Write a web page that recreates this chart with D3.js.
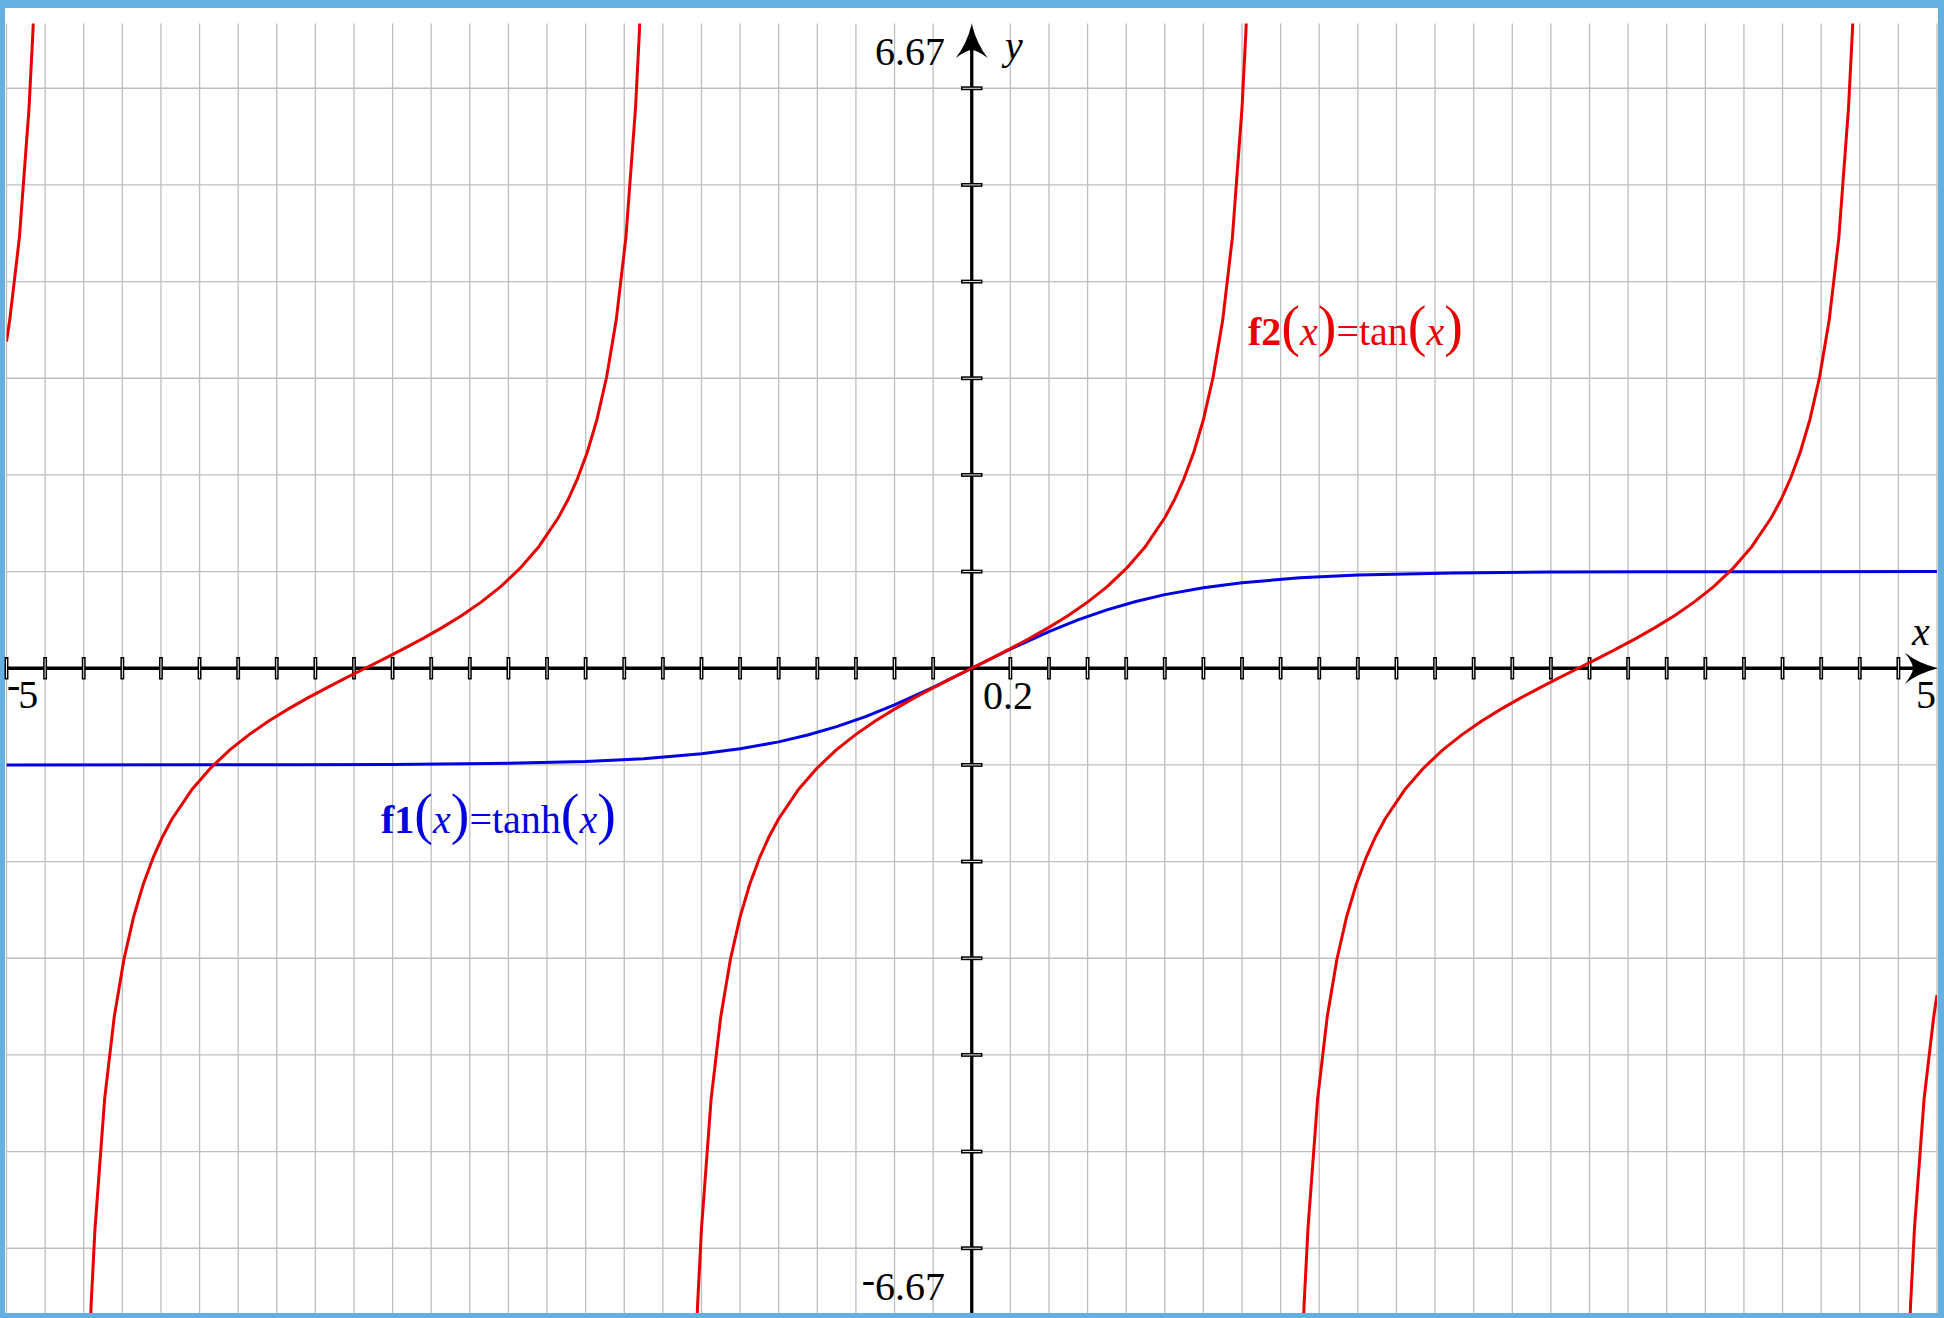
<!DOCTYPE html>
<html><head><meta charset="utf-8">
<script src="https://cdn.jsdelivr.net/npm/d3@7"></script>
<style>body{margin:0;background:#fff}svg{display:block}</style>
</head><body>
<svg id="c" width="1944" height="1318"></svg>
<script>
// ---- data ----
const xDomain = [-5, 5];
const yDomain = [-6.67, 6.67];
const yTickValues = [-6, -5, -4, -3, -2, -1, 1, 2, 3, 4, 5, 6];
const xTickLabel = "0.2";
const yTopLabel = "6.67";
const yBottomLabel = "6.67";

// f1(x) = tanh(x)
const tanhX = [-5,-4,-3.5,-3,-2.5,-2,-1.7,-1.4,-1.2,-1,-0.85,-0.7,-0.55,-0.4,-0.2,0,0.2,0.4,0.55,0.7,0.85,1,1.2,1.4,1.7,2,2.5,3,3.5,4,5];
const tanhY = [-0.9999,-0.9993,-0.9982,-0.9951,-0.9866,-0.9640,-0.9354,-0.8854,-0.8337,-0.7616,-0.6911,-0.6044,-0.5005,-0.3799,-0.1974,0,0.1974,0.3799,0.5005,0.6044,0.6911,0.7616,0.8337,0.8854,0.9354,0.9640,0.9866,0.9951,0.9982,0.9993,0.9999];

// f2(x) = tan(x), one array pair per branch
const tanX1 = [-5,-4.9832,-4.9332,-4.8832,-4.8632,-4.8432,-4.8132];
const tanY1 = [3.3805,3.6021,4.4552,5.7979,6.581,7.602,9.887];
const tanX2 = [-4.6116,-4.5816,-4.5616,-4.5416,-4.4916,-4.4416,-4.3916,-4.3416,-4.2916,-4.2416,-4.1916,-4.1416,-4.0416,-3.9416,-3.8416,-3.7416,-3.6416,-3.5416,-3.4416,-3.3416,-3.2416,-3.1416,-3.0416,-2.9416,-2.8416,-2.7416,-2.6416,-2.5416,-2.4416,-2.3416,-2.2416,-2.1416,-2.0916,-2.0416,-1.9916,-1.9416,-1.8916,-1.8416,-1.7916,-1.7416,-1.7216,-1.7016,-1.6716];
const tanX3 = [-1.47,-1.44,-1.42,-1.4,-1.35,-1.3,-1.25,-1.2,-1.15,-1.1,-1.05,-1,-0.9,-0.8,-0.7,-0.6,-0.5,-0.4,-0.3,-0.2,-0.1,0,0.1,0.2,0.3,0.4,0.5,0.6,0.7,0.8,0.9,1,1.05,1.1,1.15,1.2,1.25,1.3,1.35,1.4,1.42,1.44,1.47];
const tanX4 = [1.6716,1.7016,1.7216,1.7416,1.7916,1.8416,1.8916,1.9416,1.9916,2.0416,2.0916,2.1416,2.2416,2.3416,2.4416,2.5416,2.6416,2.7416,2.8416,2.9416,3.0416,3.1416,3.2416,3.3416,3.4416,3.5416,3.6416,3.7416,3.8416,3.9416,4.0416,4.1416,4.1916,4.2416,4.2916,4.3416,4.3916,4.4416,4.4916,4.5416,4.5616,4.5816,4.6116];
const tanYMain = [-9.887,-7.602,-6.581,-5.798,-4.455,-3.602,-3.010,-2.572,-2.235,-1.965,-1.743,-1.557,-1.260,-1.030,-0.842,-0.684,-0.546,-0.423,-0.309,-0.203,-0.100,0,0.100,0.203,0.309,0.423,0.546,0.684,0.842,1.030,1.260,1.557,1.743,1.965,2.235,2.572,3.010,3.602,4.455,5.798,6.581,7.602,9.887];
const tanX5 = [4.8132,4.8432,4.8632,4.8832,4.9332,4.9832,5];
const tanY5 = [-9.887,-7.602,-6.581,-5.798,-4.455,-3.602,-3.3805];

// ---- drawing ----
const RED = "#e80000", BLUE = "#0000e0";
const FONT = "'Liberation Serif','Times New Roman',serif";
const svg = d3.select("#c");
svg.append("rect").attr("width",1944).attr("height",1318).attr("fill","#64b0e3");
svg.append("rect").attr("x",5).attr("y",8).attr("width",1933).attr("height",1305).attr("fill","#fff");

const x = d3.scaleLinear().domain(xDomain).range([6.5, 1937]);
const y = d3.scaleLinear().domain(yDomain).range([1313, 23.5]);
const x0 = x(0), y0 = y(0);

// grid
const gGrid = svg.append("g").attr("stroke","#bebebe").attr("stroke-width",1.3);
const xGrid = x.ticks(50);
gGrid.selectAll("line.v").data(xGrid).join("line").attr("class","v")
  .attr("x1",d=>x(d)).attr("x2",d=>x(d)).attr("y1",y(yDomain[1])).attr("y2",y(yDomain[0]));
gGrid.selectAll("line.h").data(yTickValues).join("line").attr("class","h")
  .attr("y1",d=>y(d)).attr("y2",d=>y(d)).attr("x1",x(xDomain[0])).attr("x2",x(xDomain[1]));

// axes
svg.append("line").attr("x1",x(-5)).attr("x2",1925).attr("y1",y0).attr("y2",y0)
  .attr("stroke","#000").attr("stroke-width",3.3);
svg.append("line").attr("x1",x0).attr("x2",x0).attr("y1",y(yDomain[0])).attr("y2",45)
  .attr("stroke","#000").attr("stroke-width",3.3);

// ticks (double lines)
const xt = xGrid.filter(d => Math.abs(d) > 1e-9 && d < 4.99);
svg.append("g").selectAll("rect").data(xt).join("rect")
  .attr("x",d=>x(d)-1.2).attr("y",y0-10.5).attr("width",2.4).attr("height",21)
  .attr("fill","#fff").attr("stroke","#000").attr("stroke-width",1.5);
svg.append("g").selectAll("rect").data(yTickValues).join("rect")
  .attr("y",d=>y(d)-1.2).attr("x",x0-10).attr("height",2.4).attr("width",20)
  .attr("fill","#fff").attr("stroke","#000").attr("stroke-width",1.5);

// arrowheads
const tipY = 24;
svg.append("path").attr("fill","#000")
  .attr("d",`M${x0},${tipY} Q${x0+5},${tipY+20} ${x0+16},${tipY+34} Q${x0+5},${tipY+26} ${x0},${tipY+26} Q${x0-5},${tipY+26} ${x0-16},${tipY+34} Q${x0-5},${tipY+20} ${x0},${tipY} Z`);
const tipX = 1938;
svg.append("path").attr("fill","#000")
  .attr("d",`M${tipX},${y0} Q${tipX-20},${y0-5} ${tipX-33},${y0-15.5} Q${tipX-25},${y0-5} ${tipX-25},${y0} Q${tipX-25},${y0+5} ${tipX-33},${y0+15.5} Q${tipX-20},${y0+5} ${tipX},${y0} Z`);

// curves
svg.append("clipPath").attr("id","clip").append("rect")
  .attr("x",x(-5)).attr("y",y(yDomain[1])).attr("width",x(5)-x(-5)).attr("height",y(yDomain[0])-y(yDomain[1]));
const line = d3.line().x(d=>x(d[0])).y(d=>y(d[1]));
const gC = svg.append("g").attr("clip-path","url(#clip)").attr("fill","none")
  .attr("stroke-width",3).attr("stroke-linejoin","round");
gC.append("path").attr("stroke",BLUE).attr("d",line(d3.zip(tanhX,tanhY)));
const branches = [[tanX1,tanY1],[tanX2,tanYMain],[tanX3,tanYMain],[tanX4,tanYMain],[tanX5,tanY5]];
branches.forEach(([bx,by]) => gC.append("path").attr("stroke",RED).attr("d",line(d3.zip(bx,by))));

// labels
const T = (px,py) => svg.append("text").attr("x",px).attr("y",py)
  .attr("font-family",FONT).attr("font-size",40).attr("fill","#000");
T(945,65).attr("text-anchor","end").text(yTopLabel);
T(1005,59).attr("font-style","italic").text("y");
T(983,709).text(xTickLabel);
T(1912,645).attr("font-style","italic").text("x");
T(1936,708).attr("text-anchor","end").text("5");
{ const t = T(7,708); t.append("tspan").attr("dy",-10).text("-"); t.append("tspan").attr("dy",10).attr("dx",-2).text("5"); }
{ const t = T(945,1300).attr("text-anchor","end"); t.append("tspan").attr("dy",-7).text("-"); t.append("tspan").attr("dy",7).text(yBottomLabel); }

function fLabel(px,py,color,name,body){
  const t = T(px,py).attr("fill",color);
  t.append("tspan").attr("font-weight","bold").text(name);
  t.append("tspan").attr("font-size",56).text("(");
  t.append("tspan").attr("font-style","italic").text("x");
  t.append("tspan").attr("font-size",56).text(")");
  t.append("tspan").text("=" + body);
  t.append("tspan").attr("font-size",56).text("(");
  t.append("tspan").attr("font-style","italic").text("x");
  t.append("tspan").attr("font-size",56).text(")");
}
fLabel(1248,345,RED,"f2","tan");
fLabel(381,833,BLUE,"f1","tanh");
</script>
</body></html>
